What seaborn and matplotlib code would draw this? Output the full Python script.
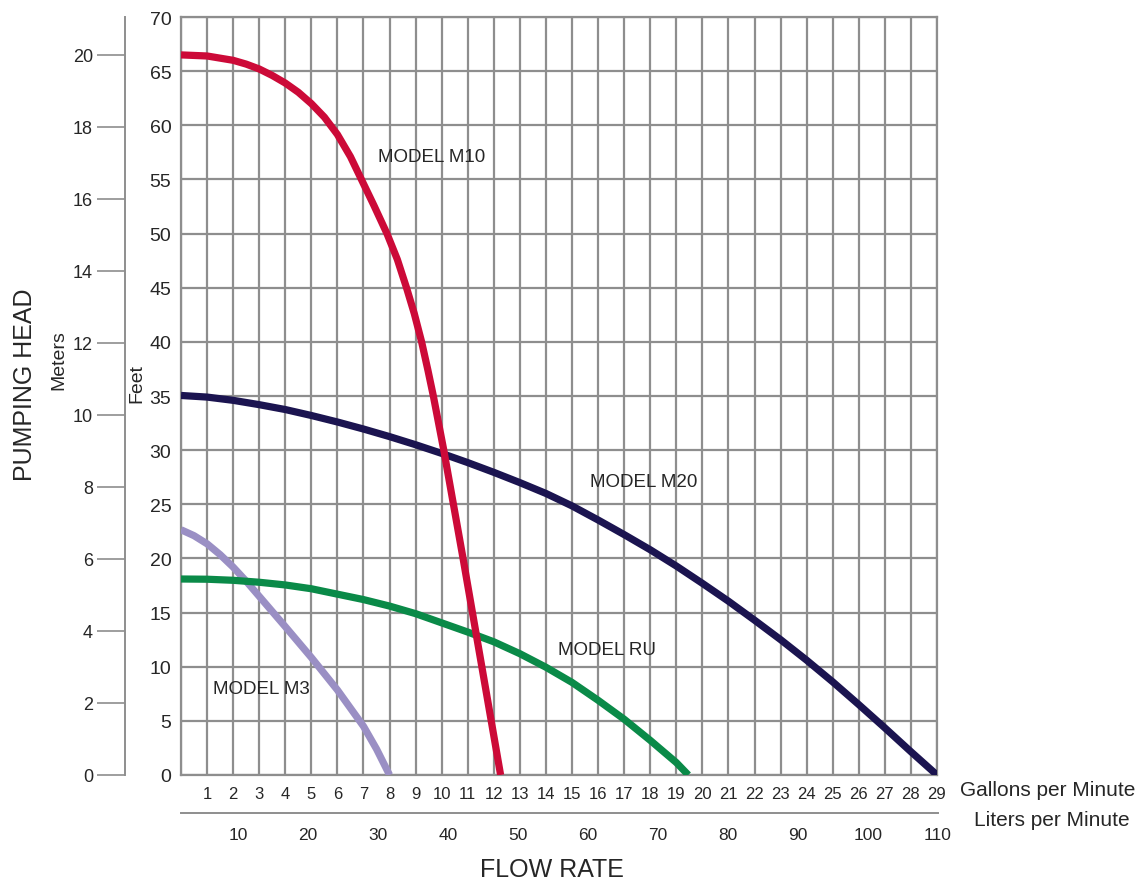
import matplotlib
matplotlib.use("Agg")
import matplotlib.pyplot as plt
import numpy as np
import pandas as pd
import seaborn as sns

# ---------------- data ----------------
m10_gpm = [0, 1, 2, 2.5, 3, 3.5, 4, 4.5, 5, 5.5, 6, 6.5, 6.9, 7.4, 7.9, 8.3, 8.65, 8.95, 9.23, 9.47,
           9.68, 10.08, 10.45, 10.82, 11.18, 11.54, 11.9, 12.26]
m10_ft = [66.5, 66.4, 66.0, 65.65, 65.2, 64.6, 63.9, 63.05, 62.0, 60.75, 59.15, 57.1, 55.1, 52.6, 50.0,
          47.6, 45.0, 42.6, 40.0, 37.4, 35.0, 30.0, 25.0, 20.0, 15.0, 10.0, 5.0, 0.0]

m20_gpm = [0, 1, 2, 3, 4, 5, 6, 7, 8, 9, 10, 11, 12, 13, 14, 15, 16, 17, 18, 19, 20, 21, 22, 23, 24, 25, 26, 27, 28, 29]
m20_ft = [35.05, 34.9, 34.6, 34.2, 33.75, 33.2, 32.6, 31.95, 31.25, 30.5, 29.7, 28.85, 27.95, 27.0, 26.0,
          24.85, 23.55, 22.2, 20.8, 19.3, 17.7, 16.05, 14.3, 12.5, 10.6, 8.6, 6.5, 4.35, 2.15, 0.0]

ru_gpm = [0, 1, 2, 3, 4, 5, 6, 7, 8, 9, 10, 11, 12, 13, 14, 15, 16, 17, 18, 19, 19.46]
ru_ft = [18.1, 18.08, 17.98, 17.8, 17.55, 17.2, 16.7, 16.2, 15.6, 14.9, 14.05, 13.2, 12.3, 11.2, 9.95,
         8.55, 6.9, 5.15, 3.2, 1.15, 0.0]

m3_gpm = [0, 0.5, 1, 1.5, 2, 2.5, 3, 4, 5, 6, 7, 7.5, 8]
m3_ft = [22.65, 22.1, 21.35, 20.35, 19.2, 17.9, 16.5, 13.7, 10.85, 7.85, 4.5, 2.4, 0.0]

model_names = ["MODEL M10", "MODEL M20", "MODEL RU", "MODEL M3"]
label_gpm = [7.55, 15.68, 14.45, 1.22]
label_ft = [57.1, 27.1, 11.55, 8.0]

gpm_ticks = list(range(1, 30))
lpm_ticks = [10, 20, 30, 40, 50, 60, 70, 80, 90, 100, 110]
feet_ticks = [0, 5, 10, 15, 20, 25, 30, 35, 40, 45, 50, 55, 60, 65, 70]
meter_ticks = [0, 2, 4, 6, 8, 10, 12, 14, 16, 18, 20]

# ---------------- style ----------------
sns.set_theme(style="white")
plt.rcParams["font.family"] = ["Liberation Sans", "DejaVu Sans"]

W, H = 1143, 887
GRID = "#8e8e8e"
TXT = "#262626"
colors = {"MODEL M10": "#cc0a38", "MODEL M20": "#1b1450",
          "MODEL RU": "#0a8a48", "MODEL M3": "#9a8fc4"}

fig = plt.figure(figsize=(W / 100, H / 100), dpi=100)
fig.patch.set_facecolor("white")


def fx(px):
    return px / W


def fy(py):
    return 1 - py / H


# main axes (GPM x feet)
ax = fig.add_axes([fx(181), fy(776), (937 - 181) / W, (776 - 18) / H])
ax.set_facecolor("white")

frames = []
for name, xs, ys in [("MODEL M10", m10_gpm, m10_ft), ("MODEL M20", m20_gpm, m20_ft),
                     ("MODEL RU", ru_gpm, ru_ft), ("MODEL M3", m3_gpm, m3_ft)]:
    frames.append(pd.DataFrame({"gpm": xs, "ft": ys, "model": name}))
df = pd.concat(frames, ignore_index=True)

for name in ["MODEL M3", "MODEL RU", "MODEL M20", "MODEL M10"]:
    sub = df[df["model"] == name]
    sns.lineplot(data=sub, x="gpm", y="ft", ax=ax, color=colors[name], lw=5.2,
                 sort=False, estimator=None, legend=False, zorder=3,
                 solid_capstyle="butt", solid_joinstyle="round")

ax.set_xlim(0, 29)
ax.set_ylim(0, 70)
ax.set_xticks(range(0, 30))
ax.set_xticklabels([""] + [str(t) for t in gpm_ticks])
ax.set_yticks(feet_ticks)
ax.set_yticklabels([str(t) for t in feet_ticks])
ax.grid(True, color=GRID, lw=1.6, zorder=1)
ax.set_axisbelow(True)
ax.tick_params(axis="x", length=0, pad=8, labelsize=12, colors=TXT)
ax.tick_params(axis="y", length=0, pad=7, labelsize=14, colors=TXT)
for s in ax.spines.values():
    s.set_visible(True)
    s.set_color(GRID)
    s.set_linewidth(1.6)
ax.set_xlabel("")
ax.set_ylabel("")

for name, gx, gy in zip(model_names, label_gpm, label_ft):
    ax.text(gx, gy, name, ha="left", va="center", fontsize=13.5, color=TXT, zorder=4)

# meters axis (left, offset)
ax2 = ax.twinx()
ax2.set_ylim(0, 21.05)
ax2.yaxis.set_ticks_position("left")
ax2.set_yticks(meter_ticks)
ax2.set_yticklabels([str(t) for t in meter_ticks])
for k in ["right", "top", "bottom"]:
    ax2.spines[k].set_visible(False)
ax2.spines["left"].set_visible(True)
ax2.spines["left"].set_position(("outward", 56 * 0.72))
ax2.spines["left"].set_color(GRID)
ax2.spines["left"].set_linewidth(1.4)
ax2.tick_params(axis="y", direction="out", length=20, width=1.2, color=GRID,
                labelsize=13, pad=3, labelcolor=TXT)
ax2.grid(False)

# liters per minute axis
ax3 = fig.add_axes([fx(181), fy(814), (938 - 181) / W, 0.0001])
ax3.set_facecolor("none")
ax3.set_xlim(1.857, 110)
ax3.set_xticks(lpm_ticks)
ax3.set_xticklabels([str(t) for t in lpm_ticks])
ax3.set_yticks([])
for k in ["left", "right", "top"]:
    ax3.spines[k].set_visible(False)
ax3.spines["bottom"].set_color(GRID)
ax3.spines["bottom"].set_linewidth(1.4)
ax3.tick_params(axis="x", direction="out", length=6, width=1.2, color=GRID,
                labelsize=12.5, pad=4, labelcolor=TXT)

# titles / unit labels
fig.text(fx(25), fy(385), "PUMPING HEAD", rotation=90, ha="center", va="center",
         fontsize=18, color=TXT)
fig.text(fx(59), fy(360), "Meters", rotation=90, ha="center", va="center",
         fontsize=14, color=TXT)
fig.text(fx(137), fy(384), "Feet", rotation=90, ha="center", va="center",
         fontsize=14, color=TXT)
fig.text(fx(552), fy(870), "FLOW RATE", ha="center", va="center",
         fontsize=18, color=TXT)
fig.text(fx(960), fy(791), "Gallons per Minute", ha="left", va="center",
         fontsize=15, color=TXT)
fig.text(fx(974), fy(821), "Liters per Minute", ha="left", va="center",
         fontsize=15, color=TXT)

fig.savefig("out.png", dpi=100, facecolor="white")
